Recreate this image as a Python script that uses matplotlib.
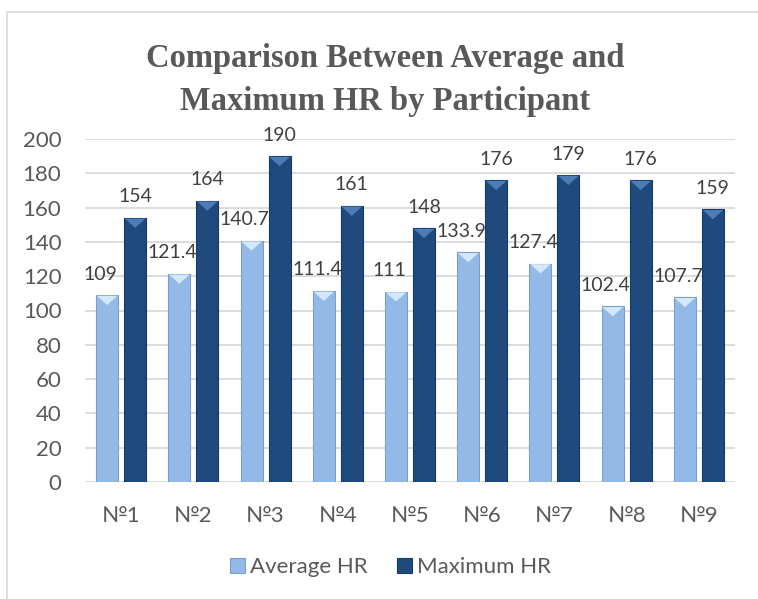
import matplotlib
matplotlib.use("Agg")
import matplotlib.pyplot as plt
import numpy as np
from matplotlib.patches import Rectangle, Polygon

categories = ["№1", "№2", "№3", "№4", "№5", "№6", "№7", "№8", "№9"]
avg_hr = [109, 121.4, 140.7, 111.4, 111, 133.9, 127.4, 102.4, 107.7]
max_hr = [154, 164, 190, 161, 148, 176, 179, 176, 159]
series_names = ["Average HR", "Maximum HR"]
yticks = [0, 20, 40, 60, 80, 100, 120, 140, 160, 180, 200]

W, H = 758, 599
fig = plt.figure(figsize=(W / 100, H / 100), dpi=100)
plt.rcParams['font.family'] = ['Lato', 'DejaVu Sans']

# chart frame
fig.patches.append(Rectangle((7 / W, -0.1), 1.2, 1 - 12 / H + 0.1, transform=fig.transFigure,
                             facecolor='none', edgecolor='#d9d9d9', linewidth=1.2))

ax = fig.add_axes([85 / W, (H - 482) / H, 650 / W, 343 / H])
x = np.arange(len(categories))
bw = 0.305
off = 0.194
light = '#93b9e6'
dark = '#1f4a7e'
light_top = '#d2e8fb'
dark_top = '#4d7cb8'
b1 = ax.bar(x - off, avg_hr, bw, color=light, edgecolor='#7a9fca', linewidth=0.8, label=series_names[0], zorder=3)
b2 = ax.bar(x + off, max_hr, bw, color=dark, edgecolor='#163a66', linewidth=0.8, label=series_names[1], zorder=3)

# bevel highlight on bar tops
depth = 5.8
for bars, c in ((b1, light_top), (b2, dark_top)):
    for rect in bars:
        x0 = rect.get_x()
        x1 = x0 + rect.get_width()
        top = rect.get_height()
        ax.add_patch(Polygon([(x0 + 0.01, top - 0.4), (x1 - 0.01, top - 0.4), ((x0 + x1) / 2, top - depth)],
                             closed=True, facecolor=c, edgecolor='none', zorder=4))

txt = '#404040'
for rect, v in zip(b1, avg_hr):
    ax.annotate(f"{v:g}", (rect.get_x() + rect.get_width() / 2, v), xytext=(-5, 9),
                textcoords='offset points', ha='center', va='bottom', fontsize=14, color=txt)
for rect, v in zip(b2, max_hr):
    ax.annotate(f"{v:g}", (rect.get_x() + rect.get_width() / 2, v), xytext=(0, 9),
                textcoords='offset points', ha='center', va='bottom', fontsize=14, color=txt)

ax.set_xlim(-0.5, len(categories) - 0.5)
ax.set_ylim(0, 200)
ax.set_yticks(yticks)
ax.set_xticks(x)
ax.set_xticklabels(categories)
ax.tick_params(axis='both', length=0, labelsize=16, labelcolor='#595959')
ax.tick_params(axis='y', pad=17)
ax.tick_params(axis='x', pad=17)
ax.grid(axis='y', color='#d9d9d9', linewidth=1.3, zorder=0)
for s in ax.spines.values():
    s.set_visible(False)

fig.text(0.508, 1 - 80 / H, "Comparison Between Average and\nMaximum HR by Participant",
         ha='center', va='center', fontsize=23.5, fontweight='bold', color='#595959',
         family='Liberation Serif', linespacing=1.5)

fig.legend(handles=[b1, b2], labels=series_names, loc='center', bbox_to_anchor=(390.5 / W, 1 - 567 / H),
           ncol=2, frameon=False, fontsize=16, handlelength=0.68, handleheight=0.68,
           handletextpad=0.2, columnspacing=1.35, labelcolor='#595959', borderpad=0.2)

fig.savefig("out.png", dpi=100)
